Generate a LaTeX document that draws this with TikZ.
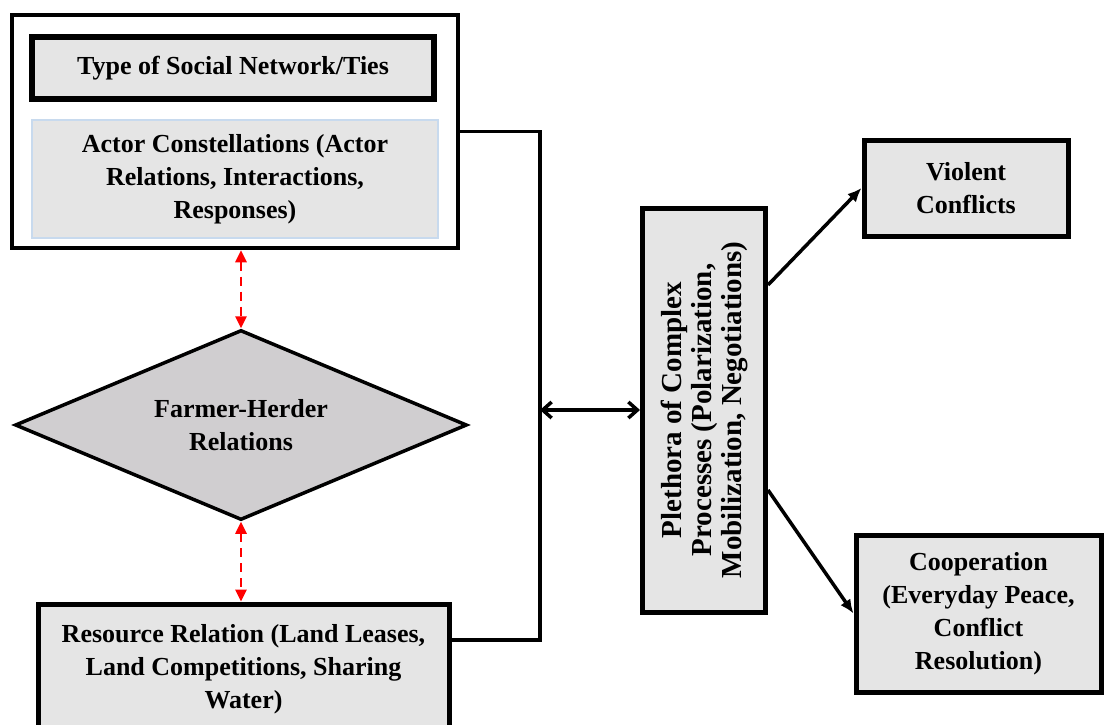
\documentclass[tikz,border=0pt]{standalone}
\usepackage{fontspec}
\setmainfont{Liberation Serif}
\usetikzlibrary{shapes.geometric,arrows.meta}
\definecolor{boxgray}{RGB}{229,229,229}
\definecolor{diagray}{RGB}{208,206,208}
\definecolor{glowblue}{RGB}{200,218,238}
\tikzset{
    txt/.style={align=center,font=\bfseries\fontsize{26}{33}\selectfont,inner sep=2pt},
    greybox/.style={txt,draw,line width=5pt,fill=boxgray},
    link/.style={line width=3.5pt},
    redlink/.style={red,dashed,line width=2.5pt,dash pattern=on 9pt off 6pt,{Triangle[length=12pt,width=11pt]}-{Triangle[length=12pt,width=11pt]}}
}
\begin{document}
\begin{tikzpicture}[x=1pt,y=-1pt]
    \useasboundingbox (0,0) rectangle (1105,725);
    % Left group
    \node[draw,line width=4.5pt,minimum width=446pt,minimum height=233pt] (outer) at (235,131.5) {};
    \node[greybox,line width=6pt,minimum width=402pt,minimum height=62pt] (ties) at (233,68) {Type of Social Network/Ties};
    \node[txt,draw=glowblue,line width=2pt,fill=boxgray,minimum width=406pt,minimum height=118pt] (actor) at (235,179) {Actor Constellations (Actor\\Relations, Interactions,\\Responses)};
    \node[txt,diamond,aspect=2.38,draw,line width=3.5pt,fill=diagray,minimum width=452pt,minimum height=190pt,inner sep=0pt] (farmer) at (241,425) {Farmer-Herder\\Relations};
    \node[greybox,minimum width=411pt,minimum height=130pt] (resource) at (243.5,669) {Resource Relation (Land Leases,\\Land Competitions, Sharing\\Water)};
    % Processes and outcomes
    \node[greybox,font=\bfseries\fontsize{29}{30}\selectfont,rotate=90,minimum width=404pt,minimum height=123pt] (plethora) at (704,410) {Plethora of Complex\\Processes (Polarization,\\Mobilization, Negotiations)};
    \node[greybox,minimum width=204pt,minimum height=96pt] (violent) at (966,188) {Violent\\Conflicts};
    \node[greybox,minimum width=245pt,minimum height=157pt] (coop) at (978.5,613.5) {Cooperation\\(Everyday Peace,\\Conflict\\Resolution)};
    \coordinate (join) at (540,410);
    % Connectors
    \draw[redlink] (farmer.north |- outer.south) -- (farmer.north);
    \draw[redlink] (farmer.south) -- (farmer.south |- resource.north);
    \draw[link] (outer.east) -| (join) |- ([yshift=29pt]resource.east);
    \draw[link,{Straight Barb[length=9pt,width=16pt]}-{Straight Barb[length=9pt,width=16pt]}] (join) -- (plethora.north);
    \draw[link,-{Latex[length=14pt,width=12pt]}] ([yshift=125pt]plethora.south) -- (violent.west);
    \draw[link,-{Latex[length=14pt,width=12pt]}] ([yshift=-80pt]plethora.south) -- (coop.west);
\end{tikzpicture}
\end{document}
